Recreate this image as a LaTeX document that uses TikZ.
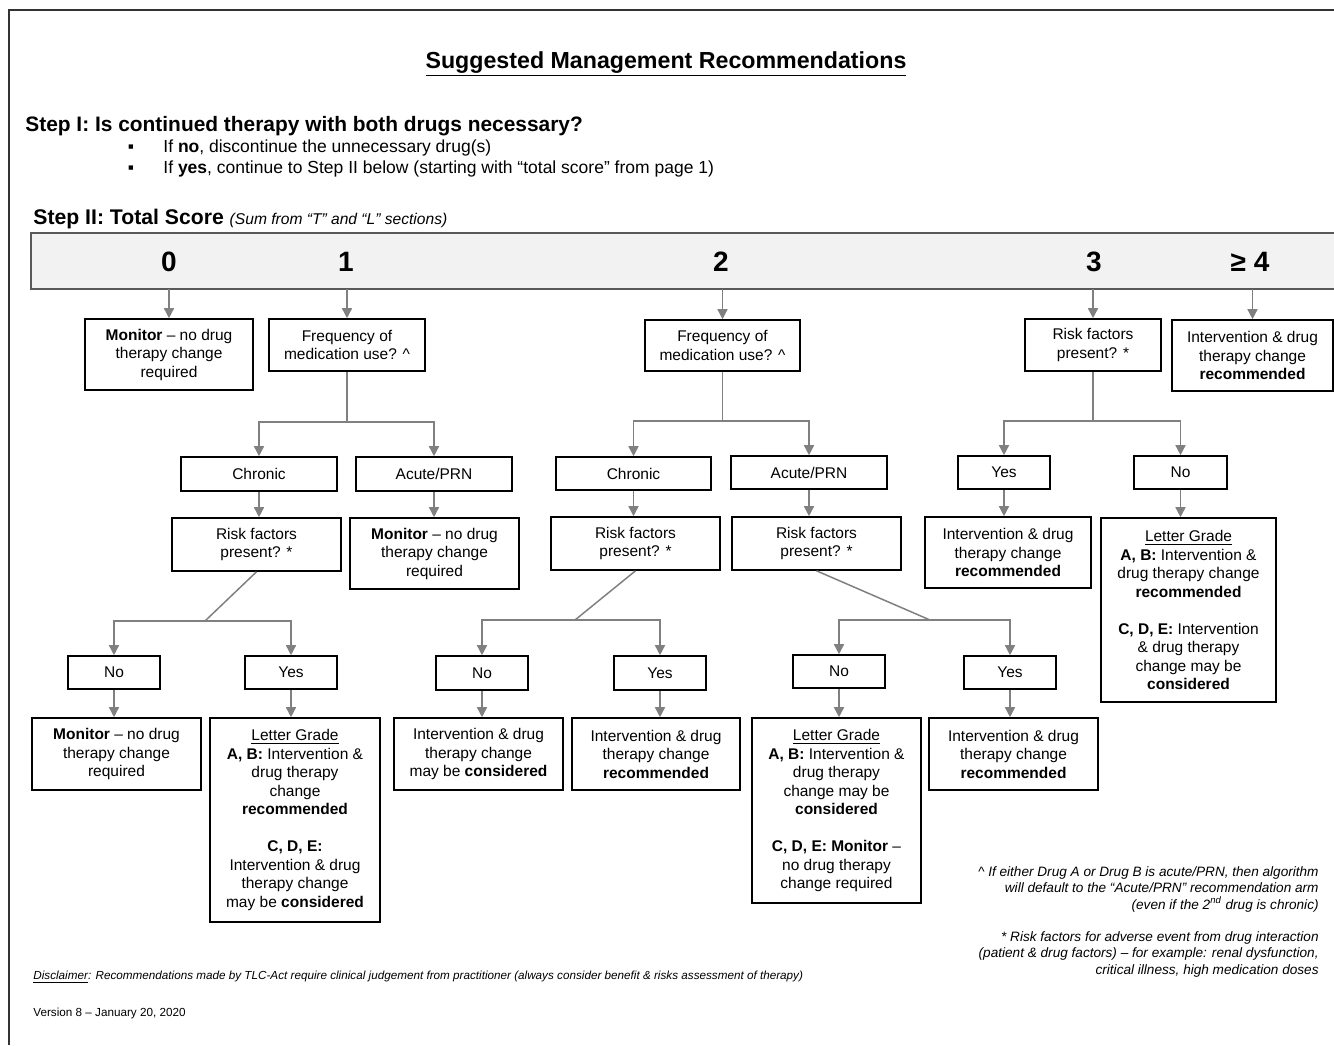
\documentclass[tikz,border=0pt]{standalone}
\usepackage{fontspec}
\setmainfont{Liberation Sans}
\usetikzlibrary{arrows.meta}
\definecolor{conn}{HTML}{808080}
\definecolor{barfill}{HTML}{F2F2F2}
\definecolor{barline}{HTML}{595959}
\newcommand\flowbox[6]{%
  \pgfmathsetmacro\fbcx{(#2+#4)/2}%
  \pgfmathsetmacro\fbcy{(#3+#5)/2}%
  \pgfmathsetmacro\fbw{(#4-#2)*0.5}%
  \pgfmathsetmacro\fbh{(#5-#3)*0.5}%
  \node[flow, minimum width=\fbw pt, minimum height=\fbh pt] (#1) at (\fbcx,\fbcy) {#6};}
\tikzset{
  flow/.style={draw=black, line width=0.8pt, fill=white, align=center, inner sep=0pt,
    font=\fontsize{7.75pt}{9.25pt}\selectfont},
  connline/.style={draw=conn, line width=0.75pt},
  connarrow/.style={connline, -{Triangle[width=5pt,length=5pt]}},
  bignum/.style={font=\bfseries\fontsize{14pt}{16pt}\selectfont, inner sep=0pt, anchor=base},
  plain/.style={inner sep=0pt},
}
\begin{document}
\begin{tikzpicture}[x=0.5pt,y=-0.5pt]
\useasboundingbox (0,0) rectangle (1334,1045);
% page frame
\draw[line width=0.6pt, draw=black!80] (9,1045) -- (9,10) -- (1334,10);

% headings
\node[plain, anchor=base, font=\bfseries\fontsize{11.6pt}{13pt}\selectfont] (title) at (666,68) {\underline{Suggested Management Recommendations}};
\node[plain, anchor=base west, font=\bfseries\fontsize{10.45pt}{12pt}\selectfont] (step1) at (25,131.5) {Step I: Is continued therapy with both drugs necessary?};
\node[plain, anchor=base, font=\fontsize{8.75pt}{10.5pt}\selectfont] (b1) at (131,152) {▪};
\node[plain, anchor=base west, font=\fontsize{8.75pt}{10.5pt}\selectfont] (t1) at (163,152) {If \textbf{no}, discontinue the unnecessary drug(s)};
\node[plain, anchor=base, font=\fontsize{8.75pt}{10.5pt}\selectfont] (b2) at (131,173) {▪};
\node[plain, anchor=base west, font=\fontsize{8.75pt}{10.5pt}\selectfont] (t2) at (163,173) {If \textbf{yes}, continue to Step II below (starting with “total score” from page 1)};
\node[plain, anchor=base west, font=\bfseries\fontsize{10.6pt}{12pt}\selectfont] (step2) at (33,224.5) {Step II: Total Score {\mdseries\itshape\fontsize{7.8pt}{9pt}\selectfont (Sum from “T” and “L” sections)}};

% score bar
\path[fill=barfill] (31,233) rectangle (1334,289);
\draw[draw=barline, line width=1.2pt] (1334,233) -- (31,233) -- (31,289) -- (1334,289);
\coordinate (barbot) at (0,289);
\node[bignum] (s0) at (169,271) {0};
\node[bignum] (s1) at (346,271) {1};
\node[bignum] (s2) at (721,271) {2};
\node[bignum] (s3) at (1094,271) {3};
\node[bignum] (s4) at (1250,271) {≥ 4};

% level 1
\flowbox{m0}{85}{319}{253}{390}{\textbf{Monitor} -- no drug\\therapy change\\required}
\flowbox{f1}{269}{319}{425}{371}{Frequency of\\medication use? \textasciicircum}
\flowbox{f2}{645}{320}{800}{371}{Frequency of\\medication use? \textasciicircum}
\flowbox{r3}{1025}{319}{1161}{371}{Risk factors\\present? *}
\flowbox{i4}{1172}{320}{1333}{391}{Intervention \& drug\\therapy change\\\textbf{recommended}}

% level 2
\flowbox{c1}{181}{457}{337}{491}{Chronic}
\flowbox{a1}{356}{457}{512}{491}{Acute/PRN}
\flowbox{c2}{556}{457}{711}{490}{Chronic}
\flowbox{a2}{731}{456}{887}{489}{Acute/PRN}
\flowbox{y3}{958}{456}{1050}{489}{Yes}
\flowbox{n3}{1134}{456}{1227}{489}{No}

% level 3
\flowbox{r1}{172}{518}{341}{571}{Risk factors\\present? *}
\flowbox{ma1}{350}{518}{519}{589}{\textbf{Monitor} -- no drug\\therapy change\\required}
\flowbox{r2a}{551}{517}{720}{570}{Risk factors\\present? *}
\flowbox{r2b}{732}{517}{901}{570}{Risk factors\\present? *}
\flowbox{i3}{925}{517}{1091}{588}{Intervention \& drug\\therapy change\\\textbf{recommended}}
\flowbox{lg3}{1101}{518}{1276}{702}{\underline{Letter Grade}\\\textbf{A, B:} Intervention \&\\drug therapy change\\\textbf{recommended}\\[9.25pt]\textbf{C, D, E:} Intervention\\\& drug therapy\\change may be\\\textbf{considered}}

% level 4
\flowbox{n1}{68}{656}{160}{689}{No}
\flowbox{y1}{245}{656}{337}{689}{Yes}
\flowbox{n2a}{436}{656}{528}{690}{No}
\flowbox{y2a}{614}{656}{706}{690}{Yes}
\flowbox{n2b}{793}{655}{885}{688}{No}
\flowbox{y2b}{964}{656}{1056}{689}{Yes}

% level 5
\flowbox{mn1}{32}{718}{201}{790}{\textbf{Monitor} -- no drug\\therapy change\\required}
\flowbox{lg1}{210}{718}{380}{922}{\underline{Letter Grade}\\\textbf{A, B:} Intervention \&\\drug therapy\\change\\\textbf{recommended}\\[9.25pt]\textbf{C, D, E:}\\Intervention \& drug\\therapy change\\may be \textbf{considered}}
\flowbox{i2a}{394}{718}{563}{790}{Intervention \& drug\\therapy change\\may be \textbf{considered}}
\flowbox{i2b}{572}{718}{740}{790}{Intervention \& drug\\therapy change\\\textbf{recommended}}
\flowbox{lg2b}{752}{718}{921}{903}{\underline{Letter Grade}\\\textbf{A, B:} Intervention \&\\drug therapy\\change may be\\\textbf{considered}\\[9.25pt]\textbf{C, D, E: Monitor} --\\no drug therapy\\change required}
\flowbox{i2c}{929}{718}{1098}{790}{Intervention \& drug\\therapy change\\\textbf{recommended}}

% connectors from the bar
\foreach \b in {m0,f1,f2,r3,i4} \draw[connarrow] (\b.north |- barbot) -- (\b.north);

% branches
\coordinate (j1) at (347,422);
\coordinate (j2) at (722.5,421);
\coordinate (j3) at (1093,421);
\coordinate (d1) at (205,621);
\coordinate (d2) at (575,620);
\coordinate (d3) at (930,620);
\draw[connline] (f1.south) -- (j1);
\draw[connarrow] (j1) -| (c1.north);
\draw[connarrow] (j1) -| (a1.north);
\draw[connline] (f2.south) -- (j2);
\draw[connarrow] (j2) -| (c2.north);
\draw[connarrow] (j2) -| (a2.north);
\draw[connline] (r3.south) -- (j3);
\draw[connarrow] (j3) -| (y3.north);
\draw[connarrow] (j3) -| (n3.north);
\draw[connline] (r1.south) -- (d1);
\draw[connarrow] (d1) -| (n1.north);
\draw[connarrow] (d1) -| (y1.north);
\draw[connline] (r2a.south) -- (d2);
\draw[connarrow] (d2) -| (n2a.north);
\draw[connarrow] (d2) -| (y2a.north);
\draw[connline] (r2b.south) -- (d3);
\draw[connarrow] (d3) -| (n2b.north);
\draw[connarrow] (d3) -| (y2b.north);

% straight down
\foreach \u/\l in {c1/r1, a1/ma1, c2/r2a, a2/r2b, y3/i3, n3/lg3, n1/mn1, y1/lg1, n2a/i2a, y2a/i2b, n2b/lg2b, y2b/i2c}
  \draw[connarrow] (\u.south) -- (\u.south |- \l.north);

% footnotes
\node[plain, anchor=north east, align=right, font=\itshape\fontsize{6.8pt}{8.25pt}\selectfont] (fn1) at (1319,866) {\textasciicircum{} If either Drug A or Drug B is acute/PRN, then algorithm\\will default to the “Acute/PRN” recommendation arm\\(even if the 2\textsuperscript{nd} drug is chronic)};
\node[plain, anchor=north east, align=right, font=\itshape\fontsize{6.8pt}{8.25pt}\selectfont] (fn2) at (1319,931) {* Risk factors for adverse event from drug interaction\\(patient \& drug factors) -- for example: renal dysfunction,\\critical illness, high medication doses};
\node[plain, anchor=base west, font=\itshape\fontsize{5.85pt}{7pt}\selectfont] (disc) at (33,979) {\underline{Disclaimer}: Recommendations made by TLC-Act require clinical judgement from practitioner (always consider benefit \& risks assessment of therapy)};
\node[plain, anchor=base west, font=\fontsize{5.85pt}{7pt}\selectfont] (ver) at (33,1016) {Version 8 -- January 20, 2020};
\end{tikzpicture}
\end{document}
